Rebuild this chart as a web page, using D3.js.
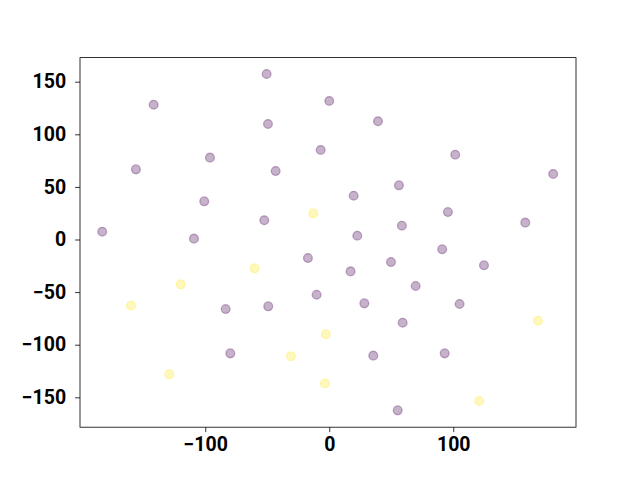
<!DOCTYPE html>
<html>
<head>
<meta charset="utf-8">
<script src="https://cdn.jsdelivr.net/npm/d3@7"></script>
<style>
  html, body { margin: 0; padding: 0; background: #fff; }
  svg { display: block; }
  .tick text { font-family: Roboto, "DejaVu Sans", sans-serif; font-weight: bold; font-size: 19.5px; fill: #000; }
</style>
</head>
<body>
<svg id="chart" width="640" height="480"></svg>
<script>
// Data
const purpleX = [-50.5, -141.6, -49.4, 0.0, -6.9, -96.2, -155.9, -43.2, -100.8, -52.4, -183.1, -109.1,
  39.3, 101.6, 180.6, 56.2, 19.7, 95.7, 58.6, 158.1, 22.6, 91.1, -17.2, -10.2, -83.5, -49.2, -79.8,
  49.8, 124.8, 17.2, 69.7, 28.3, 105.1, 59.2, 35.5, 93.1, 55.2];
const purpleY = [157.3, 128.1, 109.8, 131.7, 85.1, 77.8, 66.7, 65.1, 36.3, 18.3, 7.4, 0.8,
  112.4, 80.6, 62.3, 51.5, 41.6, 26.1, 13.1, 16.0, 3.6, -9.3, -17.6, -52.5, -66.1, -63.5, -108.2,
  -21.4, -24.5, -30.3, -44.2, -60.7, -61.3, -79.1, -110.4, -108.2, -162.4];
const yellowX = [-12.9, -60.2, -119.8, -159.9, -2.7, -30.9, -129.0, -3.5, 168.3, 121.0];
const yellowY = [24.9, -27.4, -42.6, -62.9, -90.1, -111.0, -128.2, -136.7, -77.2, -153.5];
const xTicks = [-100, 0, 100];
const yTicks = [-150, -100, -50, 0, 50, 100, 150];
const xDomain = [-201, 199];
const yDomain = [-178.4, 172.9];

const svg = d3.select("#chart");
const pLeft = 80, pRight = 576, pTop = 57.6, pBottom = 427.2;

const x = d3.scaleLinear().domain(xDomain).range([pLeft, pRight]);
const y = d3.scaleLinear().domain(yDomain).range([pBottom, pTop]);

const pts = [];
purpleX.forEach((v, i) => pts.push({x: v, y: purpleY[i], c: "#440154"}));
yellowX.forEach((v, i) => pts.push({x: v, y: yellowY[i], c: "#fde725"}));

svg.append("g").selectAll("circle").data(pts).join("circle")
  .attr("cx", d => x(d.x)).attr("cy", d => y(d.y)).attr("r", 4.4)
  .attr("fill", d => d.c).attr("fill-opacity", 0.3)
  .attr("stroke", d => d.c).attr("stroke-opacity", 0.3).attr("stroke-width", 1.3);

const fmt = d => d3.format("d")(d).replace("-", "\u2212");
const xAxis = svg.append("g").attr("transform", `translate(0,${pBottom})`)
  .call(d3.axisBottom(x).tickValues(xTicks).tickSize(4.9).tickPadding(5).tickFormat(fmt));
const yAxis = svg.append("g").attr("transform", `translate(${pLeft},0)`)
  .call(d3.axisLeft(y).tickValues(yTicks).tickSize(4.9).tickPadding(9).tickFormat(fmt));
[xAxis, yAxis].forEach(a => {
  a.select(".domain").remove();
  a.selectAll(".tick line").attr("stroke", "#000").attr("stroke-width", 0.8);
});

svg.append("rect").attr("x", pLeft).attr("y", pTop).attr("width", pRight - pLeft).attr("height", pBottom - pTop)
  .attr("fill", "none").attr("stroke", "#000").attr("stroke-width", 0.8);
</script>
</body>
</html>
